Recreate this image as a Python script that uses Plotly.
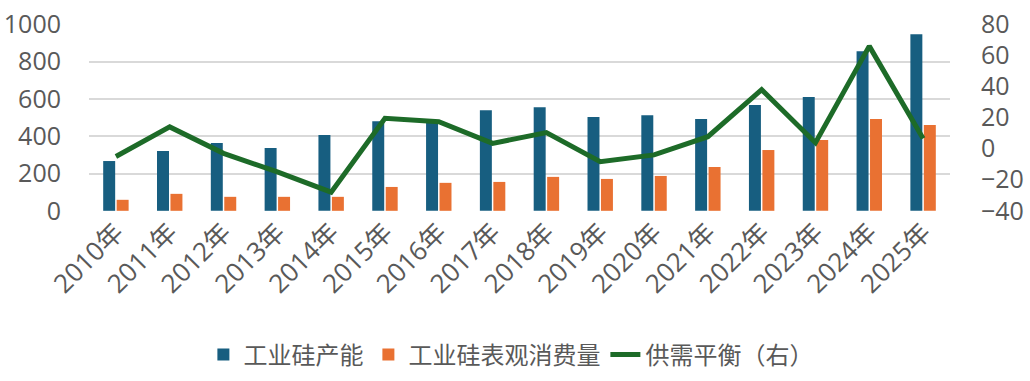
import plotly.graph_objects as go

years = ["2010年", "2011年", "2012年", "2013年", "2014年", "2015年", "2016年", "2017年",
         "2018年", "2019年", "2020年", "2021年", "2022年", "2023年", "2024年", "2025年"]
capacity = [267, 321, 364, 337, 406, 481, 478, 540, 556, 503, 513, 492, 567, 610, 856, 947]
consumption = [59, 91, 75, 75, 75, 128, 150, 155, 182, 171, 187, 235, 326, 380, 492, 460]
balance = [-5, 14, -3, -15, -28, 19.5, 17.3, 3.4, 10.3, -8.4, -4, 7.7, 38, 3.8, 66, 6.6]

FONT = "Open Sans, Noto Sans CJK SC, sans-serif"
GREY = "#595959"

fig = go.Figure()
fig.add_trace(go.Bar(x=years, y=capacity, name="工业硅产能", marker_color="#175E80",
                     marker_line_width=0))
fig.add_trace(go.Bar(x=years, y=consumption, name="工业硅表观消费量", marker_color="#E97132",
                     marker_line_width=0))
fig.add_trace(go.Scatter(x=years, y=balance, name="供需平衡（右）", mode="lines",
                         line=dict(color="#1D6B28", width=5), yaxis="y2"))

fig.update_layout(
    width=1030, height=381,
    margin=dict(l=89, r=80, t=24, b=170, autoexpand=False),
    paper_bgcolor="white", plot_bgcolor="white",
    font=dict(family=FONT, color=GREY, size=22),
    barmode="group", bargap=0.5, bargroupgap=0.11,
    showlegend=True,
    legend=dict(orientation="h", x=0.49, xanchor="center", y=-0.77, yanchor="middle",
                font=dict(size=24, family="Noto Sans CJK SC, sans-serif", color=GREY),
                itemwidth=30, traceorder="normal", bgcolor="rgba(0,0,0,0)"),
    xaxis=dict(tickangle=-45, tickfont=dict(size=26), showgrid=False, zeroline=False,
               showline=False, ticks="", automargin=False, ticklabeloverflow="allow"),
    # ranges padded by a hair so the gridlines at 0 and 1000 are kept inside the plot
    yaxis=dict(range=[-1, 1002], tickvals=[0, 200, 400, 600, 800, 1000], showgrid=True,
               gridcolor="#D9D9D9", gridwidth=1.5,
               zeroline=False, showline=False, ticks="", tickfont=dict(size=25),
               ticklabelstandoff=27, automargin=False, ticklabeloverflow="allow"),
    yaxis2=dict(range=[-40.12, 80.24], tickvals=[-40, -20, 0, 20, 40, 60, 80],
                overlaying="y", side="right", showgrid=False,
                zeroline=False, showline=False, ticks="", tickfont=dict(size=25),
                ticklabelstandoff=30, automargin=False, ticklabeloverflow="allow"),
)

# remove the page's default 8px body margin so the figure fills the 1030x381 window
fig.write_html("out.html", config={"displayModeBar": False},
               post_script="document.body.style.margin='0';")
